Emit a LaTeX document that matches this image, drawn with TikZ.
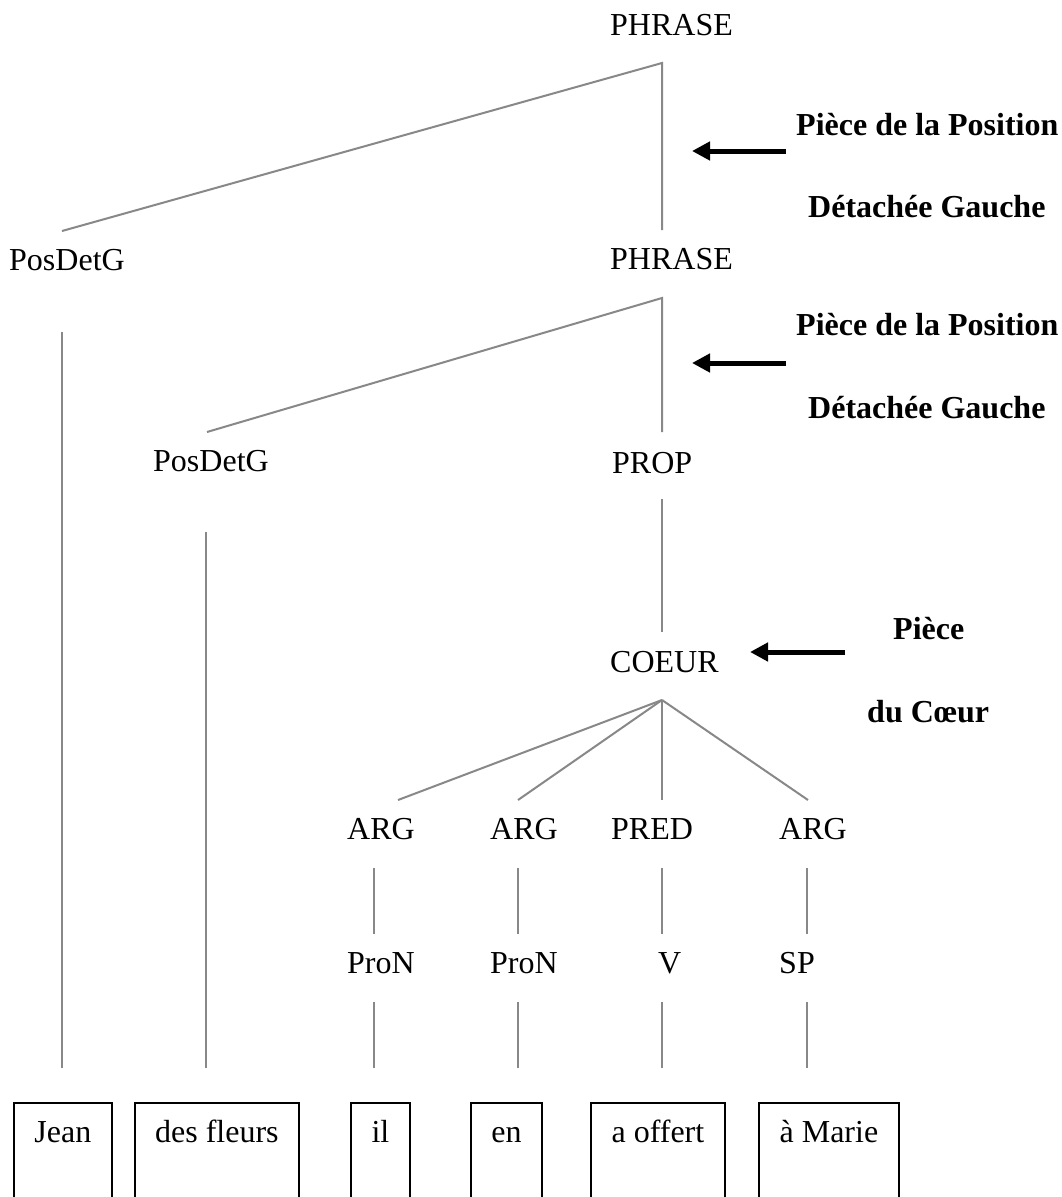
\documentclass[tikz,border=0pt]{standalone}
\usepackage{fontspec}
\setmainfont{Liberation Serif}
\usetikzlibrary{arrows.meta}
\definecolor{edgegray}{RGB}{136,136,136}
\tikzset{
  lbl/.style={inner sep=0pt, anchor=base west, font=\fontsize{32}{38}\selectfont},
  note/.style={inner sep=0pt, anchor=base west, font=\fontsize{32}{38}\selectfont\bfseries},
  edge/.style={draw=edgegray, line width=2pt},
  pointer/.style={draw=black, line width=5pt, -{Triangle[length=18pt,width=18pt]}},
  wordbox/.style={draw=black, line width=1.8pt, anchor=north west, inner sep=0pt, minimum height=160pt},
  wordtxt/.style={inner sep=0pt, anchor=base, font=\fontsize{32}{38}\selectfont}
}
\begin{document}
\begin{tikzpicture}[x=1pt, y=-1pt]
\useasboundingbox (0,0) rectangle (1062,1197);
\clip (0,0) rectangle (1062,1197);

% labels
\node[lbl] (ph1) at (610,35) {PHRASE};
\node[lbl] (ph2) at (610,269) {PHRASE};
\node[lbl] (pd1) at (9,270) {PosDetG};
\node[lbl] (pd2) at (153,471) {PosDetG};
\node[lbl] (prop) at (612,473) {PROP};
\node[lbl] (coeur) at (610,672) {COEUR};
\node[lbl] (arg1) at (347,839) {ARG};
\node[lbl] (arg2) at (490,839) {ARG};
\node[lbl] (pred) at (611,839) {PRED};
\node[lbl] (arg3) at (779,839) {ARG};
\node[lbl] (pron1) at (347,973) {ProN};
\node[lbl] (pron2) at (490,973) {ProN};
\node[lbl] (v) at (658,973) {V};
\node[lbl] (sp) at (779,973) {SP};

% notes
\node[note] (n1a) at (796,135) {Pièce de la Position};
\node[note] (n1b) at (808,217) {Détachée Gauche};
\node[note] (n2a) at (796,335) {Pièce de la Position};
\node[note] (n2b) at (808,418) {Détachée Gauche};
\node[note] (n3a) at (893,639) {Pièce};
\node[note] (n3b) at (867,722) {du Cœur};

% word boxes
\node[wordbox, minimum width=98pt] (b1) at (13,1102) {};
\node[wordbox, minimum width=164pt] (b2) at (134,1102) {};
\node[wordbox, minimum width=59pt] (b3) at (350,1102) {};
\node[wordbox, minimum width=71pt] (b4) at (470,1102) {};
\node[wordbox, minimum width=134pt] (b5) at (590,1102) {};
\node[wordbox, minimum width=140pt] (b6) at (758,1102) {};
\node[wordtxt] (w1) at (b1.north |- 0,1142) {Jean};
\node[wordtxt] (w2) at (b2.north |- 0,1142) {des fleurs};
\node[wordtxt] (w3) at (b3.north |- 0,1142) {il};
\node[wordtxt] (w4) at (b4.north |- 0,1142) {en};
\node[wordtxt] (w5) at (b5.north |- 0,1142) {a offert};
\node[wordtxt] (w6) at (b6.north |- 0,1142) {à Marie};

% connector points
\coordinate (t1) at (662,63);
\coordinate (t1d) at (662,230);
\coordinate (t1l) at (62,231);
\coordinate (t2) at (662,298);
\coordinate (t2d) at (662,432);
\coordinate (t2l) at (207,432);
\coordinate (pd1a) at (62,332);
\coordinate (pd1b) at (62,1068);
\coordinate (pd2a) at (206,532);
\coordinate (pd2b) at (206,1068);
\coordinate (pra) at (662,499);
\coordinate (prb) at (662,632);
\coordinate (co) at (662,700);
\coordinate (ca1) at (398,800);
\coordinate (ca2) at (518,800);
\coordinate (ca3) at (662,800);
\coordinate (ca4) at (808,800);

\draw[edge] (t1l) -- (t1) -- (t1d);
\draw[edge] (t2l) -- (t2) -- (t2d);
\draw[edge] (pd1a) -- (pd1b);
\draw[edge] (pd2a) -- (pd2b);
\draw[edge] (pra) -- (prb);
\draw[edge] (co) -- (ca1);
\draw[edge] (co) -- (ca2);
\draw[edge] (co) -- (ca3);
\draw[edge] (co) -- (ca4);
\foreach \x in {374,518,662,807}{
  \draw[edge] (\x,868) -- (\x,934);
  \draw[edge] (\x,1002) -- (\x,1068);
}

% arrows
\coordinate (a1s) at (786,151);
\coordinate (a1e) at (692,151);
\coordinate (a2s) at (786,363);
\coordinate (a2e) at (692,363);
\coordinate (a3s) at (845,652);
\coordinate (a3e) at (750,652);
\draw[pointer] (a1s) -- (a1e);
\draw[pointer] (a2s) -- (a2e);
\draw[pointer] (a3s) -- (a3e);
\end{tikzpicture}
\end{document}
